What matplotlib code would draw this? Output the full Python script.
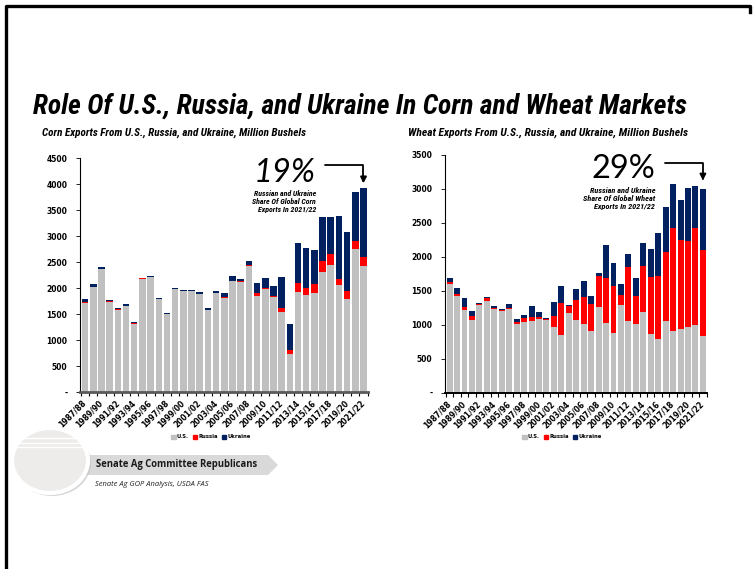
import matplotlib
matplotlib.use("Agg")
import matplotlib.pyplot as plt
from matplotlib import font_manager
from matplotlib.patches import Ellipse, Polygon, Patch
from matplotlib.lines import Line2D

# data -------------------------------------------------------------------
years = ["1987/88", "1988/89", "1989/90", "1990/91", "1991/92", "1992/93", "1993/94",
         "1994/95", "1995/96", "1996/97", "1997/98", "1998/99", "1999/00", "2000/01",
         "2001/02", "2002/03", "2003/04", "2004/05", "2005/06", "2006/07", "2007/08",
         "2008/09", "2009/10", "2010/11", "2011/12", "2012/13", "2013/14", "2014/15",
         "2015/16", "2016/17", "2017/18", "2018/19", "2019/20", "2020/21", "2021/22"]

corn_us = [1710, 2015, 2360, 1730, 1580, 1650, 1305, 2170, 2210, 1788, 1498, 1974,
           1935, 1935, 1890, 1570, 1903, 1813, 2128, 2121, 2430, 1850, 1986, 1832,
           1530, 730, 1915, 1871, 1897, 2308, 2443, 2064, 1781, 2758, 2424]
corn_russia = [15, 10, 12, 12, 12, 12, 15, 18, 5, 0, 5, 0, 0, 10, 0, 5, 0, 5, 10,
               8, 5, 50, 19, 5, 95, 70, 175, 122, 180, 206, 219, 109, 161, 154, 174]
corn_ukraine = [60, 50, 25, 20, 15, 23, 17, 0, 25, 12, 10, 25, 25, 10, 25, 45, 30,
                80, 85, 35, 85, 205, 185, 195, 585, 510, 780, 778, 662, 842, 707,
                1208, 1144, 932, 1324]

wheat_us = [1595, 1424, 1217, 1070, 1291, 1355, 1232, 1198, 1237, 1006, 1041, 1055,
            1085, 1065, 967, 854, 1168, 1070, 1006, 908, 1267, 1021, 874, 1296, 1051,
            1011, 1188, 869, 785, 1051, 908, 938, 972, 992, 830]
wheat_russia = [35, 29, 44, 59, 20, 34, 15, 25, 15, 29, 54, 59, 29, 25, 162, 461,
                103, 295, 398, 398, 451, 673, 692, 142, 795, 417, 673, 834, 928,
                1016, 1522, 1310, 1257, 1428, 1276]
wheat_ukraine = [59, 93, 133, 69, 5, 15, 25, 5, 49, 49, 49, 167, 69, 5, 201, 250,
                 20, 157, 236, 122, 44, 476, 339, 157, 196, 266, 348, 413, 643, 667,
                 643, 589, 780, 628, 898]

corn_share = "19%"
wheat_share = "29%"

C_US, C_RU, C_UA = "#C0C0C0", "#FF0000", "#002060"

# pick a narrow face if there is one, otherwise plain Liberation Sans
installed = {f.name for f in font_manager.fontManager.ttflist}
NARROW = [f for f in ["Liberation Sans Narrow", "Roboto Condensed", "Open Sans Condensed",
                      "DejaVu Sans Condensed", "Liberation Sans"] if f in installed][:1]
NARROW += ["DejaVu Sans"]

W, H = 753, 569
fig = plt.figure(figsize=(W / 100, H / 100), dpi=100)
renderer = fig.canvas.get_renderer()


def fx(x):
    return x / W


def fy(y):
    return 1 - y / H


def fit(t, width_px):
    # scale the font so the text spans the same width as in the slide
    w = t.get_window_extent(renderer).width
    t.set_fontsize(t.get_fontsize() * width_px / w)


def stacked(ax, us, ru, ua, ymax, step):
    x = list(range(len(years)))
    bottom2 = [a + b for a, b in zip(us, ru)]
    ax.bar(x, us, width=0.8, color=C_US, label="U.S.", zorder=2)
    ax.bar(x, ru, width=0.8, bottom=us, color=C_RU, label="Russia", zorder=2)
    ax.bar(x, ua, width=0.8, bottom=bottom2, color=C_UA, label="Ukraine", zorder=2)
    ax.set_ylim(0, ymax)
    ax.set_xlim(-0.62, len(years) - 0.45)
    ticks = list(range(0, ymax + 1, step))
    ax.set_yticks(ticks)
    ax.set_yticklabels(["-"] + [str(t) for t in ticks[1:]],
                       fontsize=5.5, fontweight="bold")
    ax.set_xticks(x[::2])
    ax.set_xticklabels(years[::2], rotation=45, ha="right", va="center",
                       rotation_mode="anchor", fontsize=5.5, fontweight="bold")
    ax.set_xticks([i - 0.5 for i in range(len(years) + 1)], minor=True)
    ax.tick_params(axis="x", which="major", length=0, pad=7)
    ax.tick_params(axis="x", which="minor", length=3, width=0.8)
    ax.tick_params(axis="y", length=3, width=0.6, pad=6)
    for s in ["top", "right"]:
        ax.spines[s].set_visible(False)
    ax.spines["left"].set_linewidth(0.8)
    ax.patch.set_alpha(0)
    return x


# corn ---------------------------------------------------------------
ax1 = fig.add_axes([fx(80), fy(392), fx(368) - fx(80), fy(158) - fy(392)])
xs = stacked(ax1, corn_us, corn_russia, corn_ukraine, 4500, 500)
ax1.spines["bottom"].set_color("#5a5a5a")
ax1.spines["bottom"].set_linewidth(2)
corn_top = corn_us[-1] + corn_russia[-1] + corn_ukraine[-1]
ax1.annotate("", xy=(xs[-1], corn_top + 90), xytext=(29.3, 4365),
             arrowprops=dict(arrowstyle="-|>", connectionstyle="angle,angleA=0,angleB=90,rad=0",
                             color="black", lw=1.3, mutation_scale=9, shrinkA=0, shrinkB=0),
             annotation_clip=False)
ax1.text(28.1, 4040, corn_share, ha="right", va="baseline", fontsize=23.5,
         style="italic", family=["Lato", "DejaVu Sans"])
note1 = ax1.text(28.2, 3890, "Russian and Ukraine\nShare Of Global Corn\nExports In 2021/22",
                 ha="right", va="top", fontsize=5.6, style="italic", fontweight="bold",
                 family=NARROW, linespacing=1.2)
fit(note1, 64)

# wheat -------------------------------------------------------------------
ax2 = fig.add_axes([fx(445), fy(392.7), fx(707) - fx(445), fy(155) - fy(392.7)])
xs = stacked(ax2, wheat_us, wheat_russia, wheat_ukraine, 3500, 500)
ax2.spines["bottom"].set_linewidth(1.4)
wheat_top = wheat_us[-1] + wheat_russia[-1] + wheat_ukraine[-1]
ax2.annotate("", xy=(xs[-1], wheat_top + 120), xytext=(28.9, 3382),
             arrowprops=dict(arrowstyle="-|>", connectionstyle="angle,angleA=0,angleB=90,rad=0",
                             color="black", lw=1.3, mutation_scale=9, shrinkA=0, shrinkB=0),
             annotation_clip=False)
ax2.text(27.6, 3160, wheat_share, ha="right", va="baseline", fontsize=23.5,
         family=["Lato", "DejaVu Sans"])
note2 = ax2.text(27.6, 3030, "Russian and Ukraine\nShare Of Global Wheat\nExports In 2021/22",
                 ha="right", va="top", fontsize=5.6, style="italic", fontweight="bold",
                 family=NARROW, linespacing=1.2)
fit(note2, 72)

# legends
leg_handles = [Patch(color=C_US), Patch(color=C_RU), Patch(color=C_UA)]
for cx in [211, 562]:
    fig.legend(leg_handles, ["U.S.", "Russia", "Ukraine"], loc="center",
               bbox_to_anchor=(fx(cx), fy(437)), ncol=3, frameon=False,
               handlelength=0.8, handleheight=0.8, handletextpad=0.2,
               columnspacing=0.8, prop={"weight": "bold", "size": 3.8})

# titles ------------------------------------------------------------------
title = fig.text(fx(33), fy(106), "Role Of U.S., Russia, and Ukraine In Corn and Wheat Markets",
                 ha="left", va="center", fontsize=18, fontweight="bold", style="italic",
                 family=NARROW)
fit(title, 654)
sub1 = fig.text(fx(42), fy(133), "Corn Exports From U.S., Russia, and Ukraine, Million Bushels",
                ha="left", va="center", fontsize=7, fontweight="bold", style="italic",
                family=NARROW)
fit(sub1, 266)
sub2 = fig.text(fx(408), fy(133), "Wheat Exports From U.S., Russia, and Ukraine, Million Bushels",
                ha="left", va="center", fontsize=7, fontweight="bold", style="italic",
                family=NARROW)
fit(sub2, 280)

# slide border
fig.add_artist(Line2D([fx(6), fx(6), fx(750), fx(750)], [fy(569), fy(6), fy(6), fy(12)],
                      color="black", lw=2.4))

# logo / footer
banner = Polygon([(fx(86), fy(455)), (fx(268), fy(455)), (fx(278), fy(465)),
                  (fx(268), fy(475)), (fx(86), fy(475))], closed=True,
                 transform=fig.transFigure, facecolor="#D9D9D9", edgecolor="none", zorder=1)
fig.add_artist(banner)
shadow = Ellipse((fx(52), fy(463)), fx(78), 66 / H, transform=fig.transFigure,
                 facecolor="#BDBDBD", edgecolor="none", alpha=0.6, zorder=2)
fig.add_artist(shadow)
oval = Ellipse((fx(50), fy(460.5)), fx(76), 65 / H, transform=fig.transFigure,
               facecolor="#EDECEA", edgecolor="white", lw=3, zorder=3)
fig.add_artist(oval)
for yy in [438, 443, 447]:
    ln = Line2D([fx(14), fx(86)], [fy(yy), fy(yy)], color="white", lw=1, zorder=4)
    ln.set_clip_path(oval)
    fig.add_artist(ln)
senate = fig.text(fx(96), fy(465), "Senate Ag Committee Republicans", ha="left", va="center",
                  fontsize=8, fontweight="bold", family=["Open Sans", "DejaVu Sans"], zorder=5,
                  color="#1a1a1a")
fit(senate, 163)
fig.text(fx(95), fy(484), "Senate Ag GOP Analysis, USDA FAS", ha="left", va="center",
         fontsize=5.4, style="italic", family=["Open Sans", "DejaVu Sans"], color="#222222")

fig.savefig("out.png", dpi=100)
